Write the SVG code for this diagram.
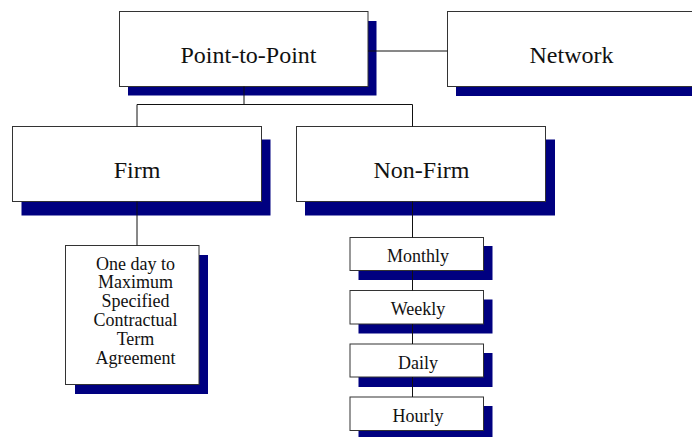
<svg xmlns="http://www.w3.org/2000/svg" width="692" height="437" viewBox="0 0 692 437">
<style>
.sh{fill:#000080}
.bx{fill:#fff;stroke:#333;stroke-width:1}
.ln{fill:none;stroke:#111;stroke-width:1}
text{fill:#111;text-anchor:middle}
.big{font-size:24px}
.sm{font-size:18px}
</style>
<rect width="692" height="437" fill="#fff"/>
<g font-family="'Liberation Serif', 'Times New Roman', Times, serif">
<g id="node-p2p">
<rect class="sh" x="128" y="21" width="248.5" height="74.5"/>
<rect class="bx" x="119.5" y="11.5" width="248.5" height="75"/>
<text class="big" x="248.5" y="63">Point-to-Point</text>
</g>
<g id="node-network">
<rect class="sh" x="456" y="21" width="250" height="75"/>
<rect class="bx" x="447.5" y="11.5" width="260" height="75"/>
<text class="big" x="571.5" y="63">Network</text>
</g>
<g id="node-firm">
<rect class="sh" x="21.5" y="139.5" width="249" height="76"/>
<rect class="bx" x="12.5" y="126.5" width="249" height="75"/>
<text class="big" x="137" y="178">Firm</text>
</g>
<g id="node-nonfirm">
<rect class="sh" x="305" y="139.5" width="250" height="76"/>
<rect class="bx" x="296.5" y="126.5" width="249" height="75"/>
<text class="big" x="421.5" y="178">Non-Firm</text>
</g>
<g id="node-oneday">
<rect class="sh" x="75" y="255" width="133" height="139"/>
<rect class="bx" x="65.5" y="245.5" width="133.5" height="139"/>
<text class="sm" x="135.5" y="269.5">One day to</text>
<text class="sm" x="135.5" y="288.3">Maximum</text>
<text class="sm" x="135.5" y="307.1">Specified</text>
<text class="sm" x="135.5" y="325.9">Contractual</text>
<text class="sm" x="135.5" y="344.7">Term</text>
<text class="sm" x="135.5" y="363.5">Agreement</text>
</g>
<g id="node-monthly">
<rect class="sh" x="358.5" y="246" width="134" height="34"/>
<rect class="bx" x="350" y="237.5" width="133.5" height="33"/>
<text class="sm" x="418" y="262">Monthly</text>
</g>
<g id="node-weekly">
<rect class="sh" x="358.5" y="299.5" width="134" height="34"/>
<rect class="bx" x="350" y="290.5" width="133.5" height="33.5"/>
<text class="sm" x="418" y="315">Weekly</text>
</g>
<g id="node-daily">
<rect class="sh" x="358.5" y="353" width="134" height="34"/>
<rect class="bx" x="350" y="344" width="133.5" height="33"/>
<text class="sm" x="418" y="368.5">Daily</text>
</g>
<g id="node-hourly">
<rect class="sh" x="358.5" y="406" width="134" height="34"/>
<rect class="bx" x="350" y="397" width="133.5" height="33.5"/>
<text class="sm" x="418" y="422">Hourly</text>
</g>
</g>
<g id="connectors">
<path class="ln" d="M368 51H447.5"/>
<path class="ln" d="M244 86.5V104.5M137 104.5H412.5M137 104.5V126.5M412.5 104.5V126.5"/>
<path class="ln" d="M137 201.5V245.5"/>
<path class="ln" d="M412.5 201.5V237.5M412.5 270.5V290.5M412.5 324V344M412.5 377V397"/>
</g>
</svg>
